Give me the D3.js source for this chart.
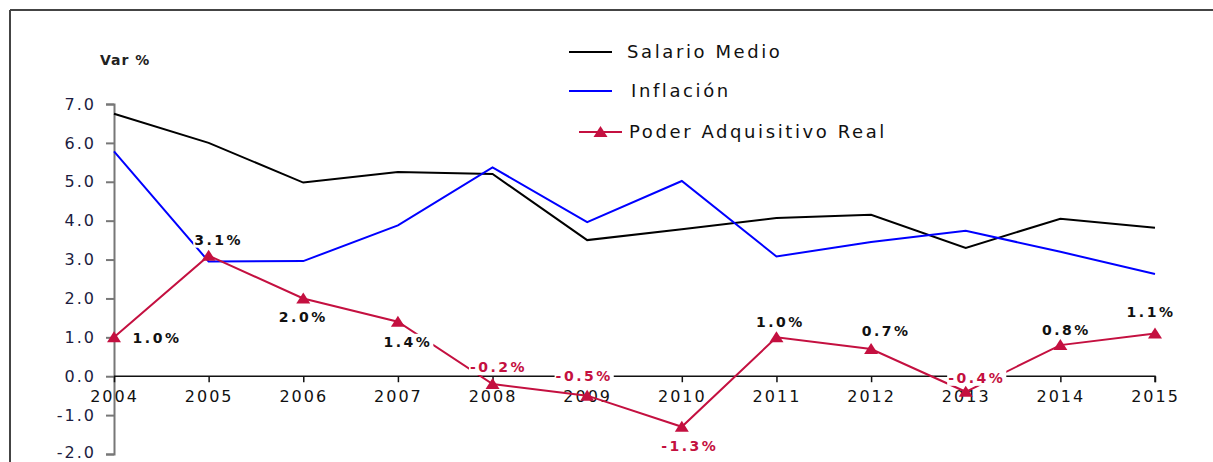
<!DOCTYPE html>
<html><head><meta charset="utf-8">
<script src="https://cdn.jsdelivr.net/npm/d3@7"></script>
<style>
html,body{margin:0;padding:0;background:#fff;}
svg{display:block;}
text{font-family:"DejaVu Sans",Verdana,sans-serif;}
</style></head>
<body>
<svg id="chart" width="1213" height="462"></svg>
<script>
// ---- data ----
const years = ["2004","2005","2006","2007","2008","2009","2010","2011","2012","2013","2014","2015"];
const salarioMedio = [6.75, 6.0, 4.98, 5.25, 5.2, 3.5, 3.78, 4.07, 4.15, 3.3, 4.05, 3.82];
const inflacion = [5.78, 2.95, 2.96, 3.88, 5.37, 3.96, 5.02, 3.08, 3.45, 3.74, 3.2, 2.63];
const poderAdquisitivo = [1.0, 3.1, 2.0, 1.4, -0.2, -0.5, -1.3, 1.0, 0.7, -0.4, 0.8, 1.1];
const yTicks = [7, 6, 5, 4, 3, 2, 1, 0, -1, -2];
const seriesNames = ["Salario Medio", "Inflación", "Poder Adquisitivo Real"];
const axisTitle = "Var %";
// label placement relative to each point (layout only)
const labelOffsets = [[43,1],[10,-16],[0,19],[10,20],[6,-17],[-3,-20],[8,19],[4,-15],[15,-18],[11,-14],[6,-15],[-4,-21]];

const fmt = v => v.toFixed(1); // plain hyphen minus like the reference

const svg = d3.select("#chart");
const x = d3.scalePoint().domain(years).range([114, 1155]);
const y = d3.scaleLinear().domain([-2, 7]).range([454, 104]);

// frame
svg.append("line").attr("x1",10).attr("x2",1213).attr("y1",10).attr("y2",10).attr("stroke","#444").attr("stroke-width",2);
svg.append("line").attr("x1",10).attr("x2",10).attr("y1",10).attr("y2",462).attr("stroke","#444").attr("stroke-width",2);

// axis title
svg.append("text").attr("x",100).attr("y",65).attr("font-size",14).attr("font-weight","bold").attr("letter-spacing","1px").attr("fill","#222").text(axisTitle);

// y axis
const yAxis = d3.axisLeft(y).tickValues(yTicks).tickFormat(fmt).tickSize(8).tickPadding(10);
const gy = svg.append("g").attr("transform","translate(114,0)").call(yAxis);
gy.select(".domain").attr("stroke","#777").attr("stroke-width",2);
gy.selectAll(".tick line").attr("stroke","#777").attr("stroke-width",2);
gy.selectAll(".tick text").attr("font-size",16).attr("fill","#1c1c40").attr("letter-spacing","2px")
  .attr("font-family","\"DejaVu Sans\",Verdana,sans-serif")
  .attr("dy", d => d === yTicks[yTicks.length-1] ? "0.2em" : "0.32em");

// x axis at zero
const xAxis = d3.axisBottom(x).tickSize(6).tickPadding(8);
const gx = svg.append("g").attr("transform",`translate(0,${y(0)})`).call(xAxis);
gx.select(".domain").attr("stroke","#111").attr("stroke-width",1.5).attr("d",`M114,0H1155V6`);
gx.selectAll(".tick line").attr("stroke","#111").attr("stroke-width",1.5);
gx.selectAll(".tick text").attr("font-size",16).attr("fill","#111").attr("letter-spacing","2px")
  .attr("font-family","\"DejaVu Sans\",Verdana,sans-serif");

const line = d3.line().x((d,i)=>x(years[i])).y(d=>y(d));
const red = "#c41040";
svg.append("path").datum(salarioMedio).attr("d",line).attr("fill","none").attr("stroke","#000").attr("stroke-width",2);
svg.append("path").datum(inflacion).attr("d",line).attr("fill","none").attr("stroke","#0000ff").attr("stroke-width",2);
svg.append("path").datum(poderAdquisitivo).attr("d",line).attr("fill","none").attr("stroke",red).attr("stroke-width",2);

const tri = "M0,-6L7,5L-7,5Z";
svg.append("g").selectAll("path").data(poderAdquisitivo).join("path")
  .attr("d",tri).attr("fill",red)
  .attr("transform",(d,i)=>`translate(${x(years[i])},${y(d)})`);

// data labels with white background
const lg = svg.append("g");
poderAdquisitivo.forEach((v,i)=>{
  const cx = x(years[i]) + labelOffsets[i][0];
  const cy = y(v) + labelOffsets[i][1];
  const g = lg.append("g");
  const t = g.append("text").attr("x",cx).attr("y",cy).attr("dy","0.36em")
    .attr("text-anchor","middle").attr("font-size",14).attr("font-weight","bold")
    .attr("letter-spacing","2.5px").attr("fill", v<0 ? red : "#111")
    .text(fmt(v) + "%");
  const bb = t.node().getBBox();
  g.insert("rect","text").attr("x",bb.x-1).attr("y",bb.y).attr("width",bb.width+2).attr("height",bb.height).attr("fill","#fff");
});

// legend
const leg = svg.append("g");
const legRows = [
  {name:seriesNames[0], color:"#000", x1:569, x2:612, y:52, tx:627, marker:false},
  {name:seriesNames[1], color:"#0000ff", x1:569, x2:612, y:91, tx:631, marker:false},
  {name:seriesNames[2], color:red, x1:579, x2:622, y:132, tx:629, marker:true}
];
legRows.forEach(r=>{
  leg.append("line").attr("x1",r.x1).attr("x2",r.x2).attr("y1",r.y).attr("y2",r.y).attr("stroke",r.color).attr("stroke-width",2);
  if(r.marker) leg.append("path").attr("d",tri).attr("fill",red).attr("transform",`translate(${(r.x1+r.x2)/2},${r.y})`);
  leg.append("text").attr("x",r.tx).attr("y",r.y).attr("dy","0.35em").attr("font-size",18).attr("letter-spacing","2.6px").attr("fill","#111").text(r.name);
});
</script>
</body></html>
